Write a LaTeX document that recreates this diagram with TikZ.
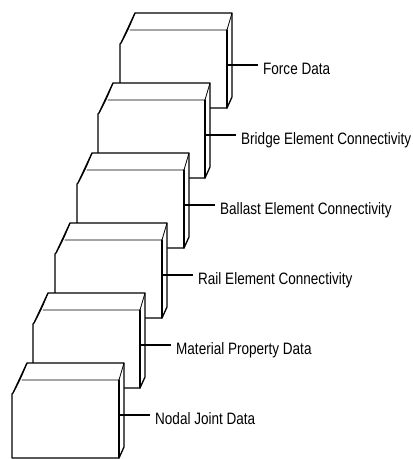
\documentclass[tikz,border=0pt]{standalone}
\usepackage{fontspec}
\setmainfont{Liberation Sans}[FakeStretch=0.82]
\begin{document}
\begin{tikzpicture}[x=1pt,y=-1pt,
  outline/.style={line width=1.3pt, line join=round, line cap=round},
  inner edge/.style={line width=0.8pt, line cap=round},
  lbl/.style={anchor=base west, inner sep=0pt, font=\fontsize{16.5}{18}\selectfont},
  lead/.style={line width=1.1pt}]
\useasboundingbox (0,0) rectangle (413,459);
\clip (0,0) rectangle (413,459);
\foreach \bx/\by/\n/\t in {135/13/1/Force Data,
                           113/83/2/Bridge Element Connectivity,
                           92/153/3/Ballast Element Connectivity,
                           70/223/4/Rail Element Connectivity,
                           48/293/5/Material Property Data,
                           27/363/6/Nodal Joint Data} {
  \begin{scope}[shift={(\bx,\by)}]
    \fill[white] (0,0) -- (97,0) -- (97,84) -- (92,95) -- (-15,95) -- (-15,31) -- (-14,30) -- cycle;
    % outer outline
    \draw[outline] (92,95) -- (-15,95) -- (-15,31) -- (-14,30) -- (0,0) -- (97,0) -- (97,84) -- (92,95);
    % leaf of the rounded front-left edge
    \draw[inner edge] (0,0) .. controls (-4,10) and (-7,18) .. (-14,30);
    % front top edge and front right edge
    \draw[inner edge] (-5,17) -- (92,17) -- (97,0);
    \draw[outline] (92,17) -- (92,95);
  \end{scope}
  \coordinate (b\n) at (\bx+92,\by+52);
  \node[lbl] (t\n) at (\bx+128,\by+61.5) {\t};
  \path (b\n -| t\n.west) coordinate (e\n);
  \draw[lead] (b\n) -- ([xshift=-5pt]e\n);
}
\end{tikzpicture}
\end{document}
